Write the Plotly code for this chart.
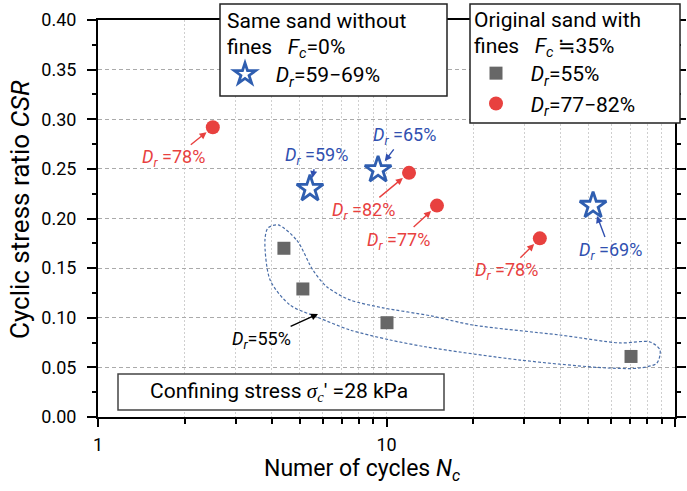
import math
import plotly.graph_objects as go

# Same sand without fines (Fc = 0%)
star_n = [5.43, 9.35, 52.0]
star_csr = [0.230, 0.249, 0.213]
star_dr = [59, 65, 69]

# Original sand with fines (Fc ~ 35%), Dr = 55%
sq_n = [4.41, 5.13, 10.04, 70.4]
sq_csr = [0.170, 0.129, 0.095, 0.061]

# Original sand with fines, Dr = 77-82%
circ_n = [2.50, 11.97, 14.96, 34.0]
circ_csr = [0.292, 0.246, 0.213, 0.180]
circ_dr = [78, 82, 77, 78]

# Hand-drawn outline grouping the Dr = 55% tests (N, CSR)
loop_n = [4.21, 4.89, 5.56, 6.22, 7.47, 9.72, 14.2, 19.9, 39.9, 64.5, 81.9, 88.7,
          86.6, 75.6, 58.1, 29.0, 13.8, 10.3, 7.47, 5.74, 4.63, 3.95, 3.79, 3.88, 4.21]
loop_csr = [0.1935, 0.178, 0.148, 0.131, 0.118, 0.110, 0.102, 0.0927, 0.0826, 0.0746,
            0.0756, 0.0675, 0.0544, 0.0494, 0.0494, 0.0574, 0.0705, 0.0776, 0.0877,
            0.1008, 0.1128, 0.138, 0.178, 0.1904, 0.1935]
loop_label_at = (5.79, 0.1038)

y_ticks = [0.00, 0.05, 0.10, 0.15, 0.20, 0.25, 0.30, 0.35, 0.40]

FONT = "Roboto"
RED = "#e8413f"
BLUE = "#2f5eb0"
BLUE_TXT = "#3050b0"
GRAY = "#676767"

W, H = 687, 491
ML, MR, MT, MB = 98, 12, 20, 74
PW, PH = W - ML - MR, H - MT - MB


def px(x):
    return (x - ML) / PW


def py(y):
    return (H - MB - y) / PH


DR = "<i>D</i><sub><i>r</i></sub>"
EN = "\u2002"
APPROX = "\u2009<span style='font-family:DejaVu Sans'>\u2252</span>"

fig = go.Figure()

fig.add_trace(go.Scatter(
    x=loop_n, y=loop_csr, mode="lines",
    line=dict(color="#4a6ea8", width=1.2, dash="3px,2px", shape="spline", smoothing=0.8),
    showlegend=False, hoverinfo="skip"))

fig.add_trace(go.Scatter(
    x=star_n, y=star_csr, mode="markers", name=f"{EN}{DR}=59\u221269%",
    marker=dict(symbol="star", size=20, color="white", line=dict(color=BLUE, width=2.8)),
    legend="legend"))

fig.add_trace(go.Scatter(
    x=sq_n, y=sq_csr, mode="markers", name=f"{EN}{DR}=55%",
    marker=dict(symbol="square", size=13, color=GRAY, line=dict(width=0)),
    legend="legend2"))

fig.add_trace(go.Scatter(
    x=circ_n, y=circ_csr, mode="markers", name=f"{EN}{DR}=77\u221282%",
    marker=dict(symbol="circle", size=14, color=RED, line=dict(width=0)),
    legend="legend2"))

annotations = []
circ_off = [(-39, 31), (-46, 38), (-38, 35), (-33, 33)]
for n, c, d, (dx, dy) in zip(circ_n, circ_csr, circ_dr, circ_off):
    annotations.append(dict(
        x=math.log10(n), y=c, xref="x", yref="y", ax=dx, ay=dy,
        text=f"{DR} ={d}%", font=dict(family=FONT, size=18, color=RED),
        showarrow=True, arrowhead=2, arrowsize=1, arrowwidth=1.4, arrowcolor=RED,
        standoff=8))
star_off = [(7, -33), (26, -34), (17, 45)]
for n, c, d, (dx, dy) in zip(star_n, star_csr, star_dr, star_off):
    annotations.append(dict(
        x=math.log10(n), y=c, xref="x", yref="y", ax=dx, ay=dy,
        text=f"{DR} ={d}%", font=dict(family=FONT, size=18, color=BLUE_TXT),
        showarrow=True, arrowhead=2, arrowsize=1, arrowwidth=1.4, arrowcolor=BLUE_TXT,
        standoff=11))
annotations.append(dict(
    x=math.log10(loop_label_at[0]), y=loop_label_at[1], xref="x", yref="y", ax=-57, ay=26,
    text=f"{DR}=55%", font=dict(family=FONT, size=18, color="black"),
    showarrow=True, arrowhead=2, arrowsize=1, arrowwidth=1.4, arrowcolor="black", standoff=0))

# axis titles and the test-condition note
annotations.append(dict(
    x=px(20), y=py(210), xref="paper", yref="paper", xanchor="center", yanchor="middle",
    textangle=-90, showarrow=False,
    text="Cyclic stress ratio <i>CSR</i>", font=dict(family=FONT, size=26, color="black")))
annotations.append(dict(
    x=px(362), y=py(470), xref="paper", yref="paper", xanchor="center", yanchor="middle",
    showarrow=False,
    text="Numer of cycles <i>N</i><sub><i>c</i></sub>", font=dict(family=FONT, size=23, color="black")))
annotations.append(dict(
    x=px(279), y=py(392), xref="paper", yref="paper", xanchor="center", yanchor="middle",
    showarrow=False,
    text="Confining stress <span style='font-family:Liberation Serif'><i>σ</i><sub><i>c</i></sub></span>\u2032 =28 kPa",
    font=dict(family=FONT, size=21, color="black")))

shapes = [
    dict(type="rect", xref="paper", yref="paper", x0=px(220), x1=px(447), y0=py(96), y1=py(4),
         fillcolor="white", line=dict(color="#222", width=1.5), layer="above"),
    dict(type="rect", xref="paper", yref="paper", x0=px(470), x1=px(680), y0=py(123), y1=py(4),
         fillcolor="white", line=dict(color="#222", width=1.5), layer="above"),
    dict(type="rect", xref="paper", yref="paper", x0=px(118), x1=px(444), y0=py(410), y1=py(374),
         fillcolor="white", line=dict(color="#444", width=1.5), layer="above"),
]

legend_common = dict(
    bgcolor="rgba(0,0,0,0)", borderwidth=0, font=dict(family=FONT, size=21, color="black"),
    xanchor="left", yanchor="top", itemsizing="trace", tracegroupgap=0)

fig.update_layout(
    width=W, height=H,
    margin=dict(l=ML, r=MR, t=MT, b=MB, autoexpand=False),
    paper_bgcolor="white", plot_bgcolor="white",
    font=dict(family=FONT, size=18, color="black"),
    xaxis=dict(
        type="log", range=[0, 2], tickmode="array", tickvals=[1, 10, 100], ticktext=["1", "10", "100"],
        showline=True, linecolor="black", linewidth=2, mirror=True,
        ticks="outside", ticklen=8, tickwidth=1.5, tickcolor="black", ticklabelstandoff=2,
        showgrid=True, gridcolor="#cfcfcf", gridwidth=1, griddash="2px,2px",
        minor=dict(dtick="D1", ticks="outside", ticklen=5, tickcolor="black", showgrid=True,
                   gridcolor="#cfcfcf", griddash="2px,2px"),
        zeroline=False, tickfont=dict(family=FONT, size=18),
    ),
    yaxis=dict(
        range=[0, 0.4], tickmode="array", tickvals=y_ticks, ticktext=[f"{v:.2f}" for v in y_ticks],
        showline=True, linecolor="black", linewidth=2, mirror="ticks",
        ticks="outside", ticklen=9, tickwidth=1.5, tickcolor="black", ticklabelstandoff=7,
        showgrid=True, gridcolor="#aaaaaa", gridwidth=1, griddash="4px,3px",
        minor=dict(dtick=0.025, tick0=0, ticks="outside", ticklen=4, tickcolor="black", showgrid=False),
        zeroline=False, tickfont=dict(family=FONT, size=18),
    ),
    legend=dict(legend_common, x=px(225), y=py(2), itemwidth=30,
                title=dict(text="<span style='font-size:21px'>Same sand without<br>fines   <i>F</i><sub><i>c</i></sub>=0%</span>",
                           font=dict(family=FONT, size=20))),
    legend2=dict(legend_common, x=px(472), y=py(1), itemwidth=38,
                 title=dict(text=f"<span style='font-size:21px'>Original sand with<br>fines   <i>F</i><sub><i>c</i></sub>{APPROX}35%</span>",
                            font=dict(family=FONT, size=20))),
    annotations=annotations,
    shapes=shapes,
)

fig.write_html("out.html")
